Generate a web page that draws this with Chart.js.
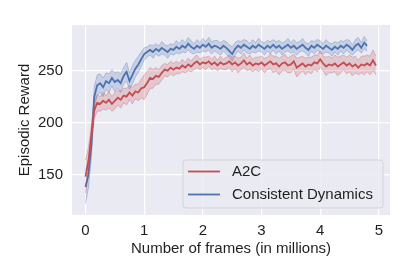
<!DOCTYPE html>
<html>
<head>
<meta charset="utf-8">
<script src="https://cdn.jsdelivr.net/npm/chart.js@4.4.0/dist/chart.umd.min.js"></script>
<style>
  body { margin: 0; background: white; }
  #wrap { width: 415px; height: 277px; }
</style>
</head>
<body>
<div id="wrap"><canvas id="myChart" width="415" height="277"></canvas></div>
<script>
// frames in millions
const frames = [
  0.00, 0.05, 0.10, 0.15, 0.20, 0.25, 0.30, 0.35, 0.40, 0.45,
  0.50, 0.55, 0.60, 0.65, 0.70, 0.75, 0.80, 0.85, 0.90, 0.95,
  1.00, 1.05, 1.10, 1.15, 1.20, 1.25, 1.30, 1.35, 1.40, 1.45,
  1.50, 1.55, 1.60, 1.65, 1.70, 1.75, 1.80, 1.85, 1.90, 1.95,
  2.00, 2.05, 2.10, 2.15, 2.20, 2.25, 2.30, 2.35, 2.40, 2.45,
  2.50, 2.55, 2.60, 2.65, 2.70, 2.75, 2.80, 2.85, 2.90, 2.95,
  3.00, 3.05, 3.10, 3.15, 3.20, 3.25, 3.30, 3.35, 3.40, 3.45,
  3.50, 3.55, 3.60, 3.65, 3.70, 3.75, 3.80, 3.85, 3.90, 3.95,
  4.00, 4.05, 4.10, 4.15, 4.20, 4.25, 4.30, 4.35, 4.40, 4.45,
  4.50, 4.55, 4.60, 4.65, 4.70, 4.75, 4.80, 4.85, 4.90, 4.95
];

const a2c = [
  148, 163, 188, 212, 219, 218, 221, 219, 222, 218,
  221, 224, 222, 226, 225, 229, 226, 230, 229, 233,
  234, 238, 243, 242, 245, 244, 248, 251, 250, 253,
  251, 253, 252, 255, 253, 256, 254, 257, 259, 256,
  258, 257, 259, 256, 258, 255, 258, 256, 257, 259,
  256, 258, 255, 257, 260, 256, 258, 255, 257, 256,
  258, 255, 257, 259, 256, 257, 254, 257, 258, 255,
  256, 259, 253, 255, 257, 254, 256, 255, 258, 257,
  261, 257, 254, 256, 255, 257, 254, 256, 258, 255,
  257, 254, 256, 253, 256, 255, 257, 255, 260, 255
];
const a2cSpread = [
  16, 13, 10, 8, 8, 7, 8, 7, 8, 7,
  8, 7, 8, 7, 8, 7, 8, 7, 8, 9,
  12, 11, 10, 9, 8, 7, 7, 6, 6, 6,
  6, 6, 5, 6, 5, 6, 5, 6, 6, 5,
  5, 6, 5, 5, 6, 5, 6, 5, 6, 6,
  7, 6, 7, 6, 7, 6, 7, 6, 6, 7,
  6, 7, 6, 7, 8, 7, 8, 7, 8, 7,
  8, 7, 9, 8, 7, 8, 7, 8, 7, 8,
  8, 7, 9, 8, 7, 8, 9, 8, 7, 8,
  8, 9, 8, 7, 8, 9, 8, 9, 10, 9
];

const cd = [
  138, 150, 178, 225, 236, 238, 234, 240, 238, 243,
  239, 241, 238, 245, 249, 240, 246, 252, 256, 261,
  266, 268, 270, 268, 271, 269, 272, 270, 268, 271,
  270, 273, 271, 274, 272, 276, 273, 271, 274, 272,
  275, 273, 276, 272, 274, 273, 271, 274, 272, 269,
  266, 271, 274, 272, 275, 273, 271, 274, 272, 275,
  273, 271, 274, 272, 275, 272, 274, 271, 273, 275,
  272, 274, 271, 273, 275, 272, 270, 274, 272, 275,
  273, 271, 274, 272, 270, 273, 271, 274, 272, 275,
  273, 270, 274, 276, 272, 277, 274
];
const cdSpread = [
  16, 13, 12, 10, 10, 9, 9, 8, 9, 8,
  9, 8, 9, 8, 9, 8, 9, 8, 8, 7,
  6, 5, 5, 6, 5, 5, 6, 5, 6, 5,
  5, 6, 5, 6, 5, 6, 6, 5, 6, 5,
  6, 5, 6, 6, 5, 6, 6, 5, 6, 6,
  7, 6, 5, 6, 5, 6, 5, 6, 5, 6,
  5, 6, 5, 6, 5, 6, 5, 6, 5, 6,
  5, 6, 6, 5, 6, 5, 6, 5, 6, 5,
  6, 5, 6, 5, 6, 5, 6, 5, 6, 5,
  6, 5, 6, 6, 5, 6, 5
];

const xTicks = [0, 1, 2, 3, 4, 5];
const yTicks = [150, 200, 250];

const red = '#C44E52';
const blue = '#4C72B0';

function pts(ys, sp, sign) {
  return ys.map(function (v, i) {
    return { x: frames[i], y: v + sign * (sp ? sp[i] : 0) };
  });
}

function band(ys, sp, fillCol, edgeCol) {
  return [
    { label: '_hi', data: pts(ys, sp, 1), borderColor: edgeCol, borderWidth: 0.8,
      backgroundColor: fillCol, fill: '+1', pointRadius: 0, tension: 0 },
    { label: '_lo', data: pts(ys, sp, -1), borderColor: edgeCol, borderWidth: 0.8,
      backgroundColor: fillCol, fill: false, pointRadius: 0, tension: 0 }
  ];
}

const bgPlugin = {
  id: 'bg',
  beforeDraw: function (chart) {
    const a = chart.chartArea;
    const ctx = chart.ctx;
    ctx.save();
    ctx.fillStyle = '#EAEAF2';
    ctx.fillRect(a.left, a.top, a.right - a.left, a.bottom - a.top);
    ctx.restore();
  }
};

const legendPlugin = {
  id: 'boxLegend',
  afterDraw: function (chart) {
    const a = chart.chartArea;
    const ctx = chart.ctx;
    const x0 = a.right - 207, y0 = a.bottom - 55, w = 200, h = 48;
    ctx.save();
    ctx.beginPath();
    ctx.roundRect(x0, y0, w, h, 3);
    ctx.fillStyle = 'rgba(234,234,242,0.85)';
    ctx.fill();
    ctx.strokeStyle = '#D3D3DA';
    ctx.lineWidth = 1;
    ctx.stroke();
    const items = [['A2C', red], ['Consistent Dynamics', blue]];
    ctx.font = '15px "Liberation Sans", Arial, sans-serif';
    ctx.textBaseline = 'middle';
    items.forEach(function (it, i) {
      const yy = y0 + 11.5 + i * 23;
      ctx.beginPath();
      ctx.moveTo(x0 + 5, yy);
      ctx.lineTo(x0 + 37, yy);
      ctx.strokeStyle = it[1];
      ctx.lineWidth = 1.8;
      ctx.stroke();
      ctx.fillStyle = '#1f1f1f';
      ctx.fillText(it[0], x0 + 49, yy);
    });
    ctx.restore();
  }
};

const datasets = []
  .concat(band(a2c, a2cSpread, 'rgba(196,78,82,0.22)', 'rgba(196,78,82,0.4)'))
  .concat([{ label: 'A2C', data: pts(a2c, null, 0), borderColor: red, borderWidth: 1.8,
             fill: false, pointRadius: 0, tension: 0 }])
  .concat(band(cd, cdSpread, 'rgba(76,114,176,0.22)', 'rgba(76,114,176,0.4)'))
  .concat([{ label: 'Consistent Dynamics', data: pts(cd, null, 0), borderColor: blue, borderWidth: 1.8,
             fill: false, pointRadius: 0, tension: 0 }]);

const tickFont = { family: '"Liberation Sans", Arial, sans-serif', size: 15 };

const config = {
  type: 'line',
  data: { datasets: datasets },
  options: {
    responsive: false,
    animation: false,
    layout: { padding: { left: 0, right: 25, top: 25, bottom: 0 } },
    plugins: { legend: { display: false }, tooltip: { enabled: false } },
    scales: {
      x: {
        type: 'linear', min: -0.23, max: 5.19,
        afterFit: function (s) { s.height = 62; },
        afterBuildTicks: function (s) { s.ticks = xTicks.map(function (v) { return { value: v }; }); },
        grid: { color: 'white', lineWidth: 1.2, drawTicks: false },
        border: { display: false },
        ticks: { padding: 7, color: '#1f1f1f', font: tickFont, maxRotation: 0 },
        title: { display: true, text: 'Number of frames (in millions)', color: '#1f1f1f',
                 font: tickFont, padding: { top: 0, bottom: 19 } }
      },
      y: {
        type: 'linear', min: 111, max: 294,
        afterFit: function (s) { s.width = 72; },
        afterBuildTicks: function (s) { s.ticks = yTicks.map(function (v) { return { value: v }; }); },
        grid: { color: 'white', lineWidth: 1.2, drawTicks: false },
        border: { display: false },
        ticks: { padding: 9, color: '#1f1f1f', font: tickFont },
        title: { display: true, text: 'Episodic Reward', color: '#1f1f1f',
                 font: tickFont, padding: { top: 16, bottom: 0 } }
      }
    }
  },
  plugins: [bgPlugin, legendPlugin]
};

const myChart = new Chart(document.getElementById('myChart'), config);
</script>
</body>
</html>
